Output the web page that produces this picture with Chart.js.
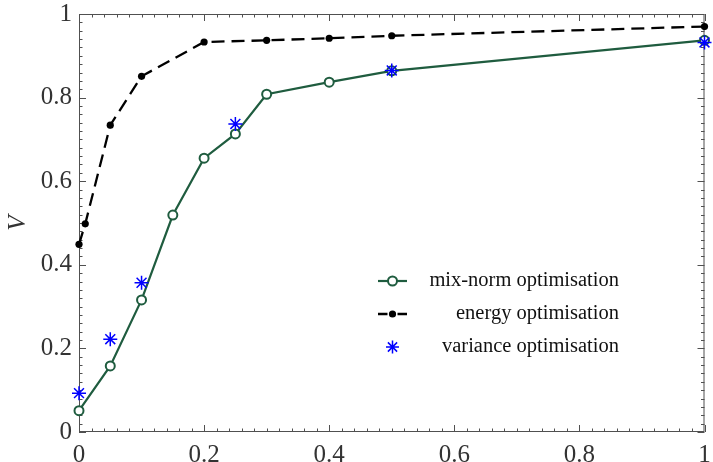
<!DOCTYPE html>
<html><head><meta charset="utf-8">
<script src="https://cdn.jsdelivr.net/npm/chart.js@4.4.1/dist/chart.umd.min.js"></script>
<style>html,body{margin:0;padding:0;background:#fff}</style>
</head><body>
<canvas id="c" width="713" height="462"></canvas>
<script>
const xMix=[0,0.05,0.1,0.15,0.2,0.25,0.3,0.4,0.5,1];
const yMix=[0.051,0.158,0.316,0.519,0.655,0.713,0.808,0.837,0.864,0.937];
const xEnergy=[0,0.01,0.05,0.1,0.2,0.3,0.4,0.5,1];
const yEnergy=[0.449,0.498,0.734,0.851,0.933,0.937,0.942,0.948,0.970];
const xVar=[0,0.05,0.1,0.25,0.5,1];
const yVar=[0.093,0.222,0.357,0.737,0.865,0.932];
const tickValues=[0,0.2,0.4,0.6,0.8,1];
const tickLabels=['0','0.2','0.4','0.6','0.8','1'];
const seriesNames=['mix-norm optimisation','energy optimisation','variance optimisation'];
const axisTitle='V';

const GREEN='#1f5c3f', BLUE='#0000ff', BLACK='#000000';
const SERIF="'Liberation Serif','DejaVu Serif',serif";
const pts=(xs,ys)=>xs.map((x,i)=>({x:x,y:ys[i]}));
const lab=(v)=>{const i=tickValues.findIndex(t=>Math.abs(t-v)<1e-9);return i>=0?tickLabels[i]:'';};

const frameTicks={
  id:'frameTicks',
  beforeDatasetsDraw(chart){
    const {ctx,chartArea:a,scales:{x,y}}=chart;
    ctx.save();
    ctx.strokeStyle='#505050';ctx.lineWidth=1;
    ctx.strokeRect(a.left+0.5,a.top+0.5,a.right-a.left-1,a.bottom-a.top-1);
    ctx.beginPath();
    for(let i=0;i<=50;i++){
      const v=i/50, L=(i%10===0)?7:3.5;
      const px=Math.round(x.getPixelForValue(v))+0.5;
      ctx.moveTo(px,a.bottom);ctx.lineTo(px,a.bottom-L);
      ctx.moveTo(px,a.top);ctx.lineTo(px,a.top+L);
      const py=Math.round(y.getPixelForValue(v))+0.5;
      ctx.moveTo(a.left,py);ctx.lineTo(a.left+L,py);
      ctx.moveTo(a.right,py);ctx.lineTo(a.right-L,py);
    }
    ctx.stroke();
    ctx.restore();
  }
};

function star(ctx,cx,cy,r){
  ctx.beginPath();
  for(let k=0;k<4;k++){
    const ang=k*Math.PI/4;
    ctx.moveTo(cx-Math.cos(ang)*r,cy-Math.sin(ang)*r);
    ctx.lineTo(cx+Math.cos(ang)*r,cy+Math.sin(ang)*r);
  }
  ctx.stroke();
}

const innerLegend={
  id:'innerLegend',
  afterDraw(chart,args,opts){
    const ctx=chart.ctx;
    const rows=[opts.y0,opts.y0+opts.dy,opts.y0+2*opts.dy];
    const sx0=opts.sx0, sx1=opts.sx1, sc=(sx0+sx1)/2;
    ctx.save();
    ctx.strokeStyle=GREEN;ctx.lineWidth=2.2;
    ctx.beginPath();ctx.moveTo(sx0,rows[0]);ctx.lineTo(sx1,rows[0]);ctx.stroke();
    ctx.lineWidth=2;
    ctx.beginPath();ctx.arc(sc,rows[0],4.5,0,Math.PI*2);ctx.fillStyle='#fff';ctx.fill();ctx.stroke();
    ctx.strokeStyle=BLACK;ctx.lineWidth=2.3;
    ctx.beginPath();ctx.moveTo(sx0,rows[1]);ctx.lineTo(sc-5,rows[1]);ctx.moveTo(sc+5,rows[1]);ctx.lineTo(sx1,rows[1]);ctx.stroke();
    ctx.beginPath();ctx.arc(sc,rows[1],3.6,0,Math.PI*2);ctx.fillStyle=BLACK;ctx.fill();
    ctx.strokeStyle=BLUE;ctx.lineWidth=1.5;
    star(ctx,sc,rows[2],6.5);
    ctx.fillStyle='#111';ctx.font='20.5px '+SERIF;ctx.textAlign='right';ctx.textBaseline='middle';
    seriesNames.forEach((s,i)=>ctx.fillText(s,opts.tx,rows[i]));
    ctx.restore();
  }
};

new Chart(document.getElementById('c'),{
  type:'scatter',
  data:{datasets:[
    {label:seriesNames[0],data:pts(xMix,yMix),showLine:true,clip:false,borderColor:GREEN,borderWidth:2.2,
     pointRadius:4.5,pointHoverRadius:4.5,pointBackgroundColor:'#fff',pointBorderColor:GREEN,pointBorderWidth:2,order:1},
    {label:seriesNames[1],data:pts(xEnergy,yEnergy),showLine:true,clip:false,borderColor:BLACK,borderWidth:2.3,borderDash:[13,7],
     pointRadius:3.6,pointHoverRadius:3.6,pointBackgroundColor:BLACK,pointBorderColor:BLACK,pointBorderWidth:0,order:2},
    {label:seriesNames[2],data:pts(xVar,yVar),showLine:false,clip:false,pointStyle:'star',pointRadius:7,pointHoverRadius:7,
     pointBorderColor:BLUE,pointBackgroundColor:BLUE,pointBorderWidth:1.5,order:0}
  ]},
  options:{
    responsive:false,animation:false,
    layout:{padding:{top:14,right:1,left:0,bottom:0}},
    plugins:{legend:{display:false},tooltip:{enabled:false},
      innerLegend:{y0:281,dy:33,sx0:378,sx1:407,tx:619}},
    scales:{
      x:{type:'linear',min:0,max:1,
        afterBuildTicks(s){s.ticks=tickValues.map(v=>({value:v}));},
        afterFit(s){s.height=30;s.paddingLeft=0;s.paddingRight=0;},
        grid:{display:false,drawTicks:false},border:{display:false},
        ticks:{padding:8,color:'#333',font:{family:SERIF,size:25},maxRotation:0,autoSkip:false,callback:lab}},
      y:{type:'linear',min:0,max:1,
        afterBuildTicks(s){s.ticks=tickValues.map(v=>({value:v}));},
        afterFit(s){s.width=79;s.paddingTop=0;s.paddingBottom=0;},
        grid:{display:false,drawTicks:false},border:{display:false},
        ticks:{padding:7,color:'#333',font:{family:SERIF,size:25},autoSkip:false,callback:lab},
        title:{display:true,text:axisTitle,color:'#333',font:{family:SERIF,size:25,style:'italic'},padding:{top:3,bottom:0}}}
    }
  },
  plugins:[frameTicks,innerLegend]
});
</script>
</body></html>
